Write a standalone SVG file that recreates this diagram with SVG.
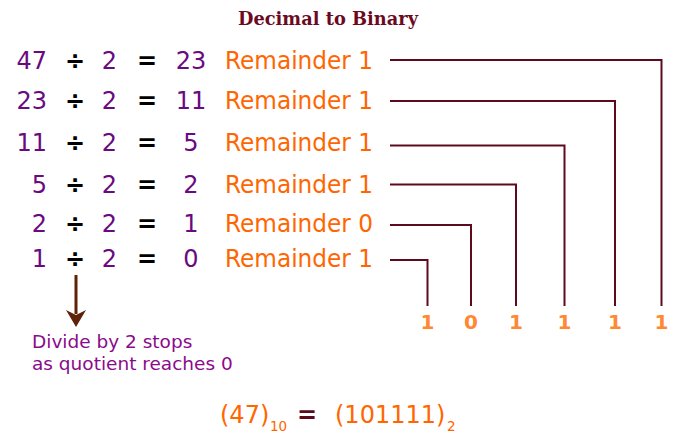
<svg xmlns="http://www.w3.org/2000/svg" width="682" height="434" viewBox="0 0 682 434">
<defs>
<style>
.t{font-family:"DejaVu Sans","Liberation Sans",sans-serif;font-size:24px}
.num{fill:#6a0a80}
.op{fill:#000;font-weight:bold}
.rem{fill:#ff6600}
.bit{font-family:"DejaVu Sans","Liberation Sans",sans-serif;font-size:20px;font-weight:bold;fill:#ff8833;text-anchor:middle}
.cap{font-family:"DejaVu Sans","Liberation Sans",sans-serif;font-size:18.5px;fill:#8b0a8b}
.ln{fill:none;stroke:#5e0a1e;stroke-width:2}
</style>
</defs>
<rect width="682" height="434" fill="#fff"/>
<text id="title" x="238" y="25" font-family="'DejaVu Serif','Liberation Serif',serif" font-weight="bold" font-size="18.5" fill="#6b0a1f" textLength="180" lengthAdjust="spacingAndGlyphs">Decimal to Binary</text>

<g id="row1" class="t">
<text class="num" x="47" y="69" text-anchor="end">47</text>
<text class="op" x="75" y="69" text-anchor="middle">÷</text>
<text class="num" x="109.5" y="69" text-anchor="middle">2</text>
<text class="op" x="147" y="69" text-anchor="middle">=</text>
<text class="num" x="191" y="69" text-anchor="middle">23</text>
<text class="rem" x="225" y="69" textLength="148" lengthAdjust="spacingAndGlyphs">Remainder 1</text>
</g>
<g id="row2" class="t">
<text class="num" x="47" y="109" text-anchor="end">23</text>
<text class="op" x="75" y="109" text-anchor="middle">÷</text>
<text class="num" x="109.5" y="109" text-anchor="middle">2</text>
<text class="op" x="147" y="109" text-anchor="middle">=</text>
<text class="num" x="191" y="109" text-anchor="middle">11</text>
<text class="rem" x="225" y="109" textLength="148" lengthAdjust="spacingAndGlyphs">Remainder 1</text>
</g>
<g id="row3" class="t">
<text class="num" x="47" y="151" text-anchor="end">11</text>
<text class="op" x="75" y="151" text-anchor="middle">÷</text>
<text class="num" x="109.5" y="151" text-anchor="middle">2</text>
<text class="op" x="147" y="151" text-anchor="middle">=</text>
<text class="num" x="191" y="151" text-anchor="middle">5</text>
<text class="rem" x="225" y="151" textLength="148" lengthAdjust="spacingAndGlyphs">Remainder 1</text>
</g>
<g id="row4" class="t">
<text class="num" x="47" y="193" text-anchor="end">5</text>
<text class="op" x="75" y="193" text-anchor="middle">÷</text>
<text class="num" x="109.5" y="193" text-anchor="middle">2</text>
<text class="op" x="147" y="193" text-anchor="middle">=</text>
<text class="num" x="191" y="193" text-anchor="middle">2</text>
<text class="rem" x="225" y="193" textLength="148" lengthAdjust="spacingAndGlyphs">Remainder 1</text>
</g>
<g id="row5" class="t">
<text class="num" x="47" y="232" text-anchor="end">2</text>
<text class="op" x="75" y="232" text-anchor="middle">÷</text>
<text class="num" x="109.5" y="232" text-anchor="middle">2</text>
<text class="op" x="147" y="232" text-anchor="middle">=</text>
<text class="num" x="191" y="232" text-anchor="middle">1</text>
<text class="rem" x="225" y="232" textLength="148" lengthAdjust="spacingAndGlyphs">Remainder 0</text>
</g>
<g id="row6" class="t">
<text class="num" x="47" y="267" text-anchor="end">1</text>
<text class="op" x="75" y="267" text-anchor="middle">÷</text>
<text class="num" x="109.5" y="267" text-anchor="middle">2</text>
<text class="op" x="147" y="267" text-anchor="middle">=</text>
<text class="num" x="191" y="267" text-anchor="middle">0</text>
<text class="rem" x="225" y="267" textLength="148" lengthAdjust="spacingAndGlyphs">Remainder 1</text>
</g>

<g id="connectors">
<path class="ln" d="M390,60 H661.5 V306"/>
<path class="ln" d="M390,101 H615 V306"/>
<path class="ln" d="M390,145.5 H564.5 V306"/>
<path class="ln" d="M390,184.5 H516 V306"/>
<path class="ln" d="M390,225 H471 V306"/>
<path class="ln" d="M390,260 H427.5 V306"/>
<line x1="76" y1="275" x2="76" y2="314" stroke="#5e2208" stroke-width="3"/>
<path d="M66,310 L76,327 L86,310 L76,315 z" fill="#5e2208"/>
</g>

<g id="bits">
<text class="bit" x="427.5" y="329">1</text>
<text class="bit" x="471" y="329">0</text>
<text class="bit" x="516" y="329">1</text>
<text class="bit" x="564.5" y="329">1</text>
<text class="bit" x="615" y="329">1</text>
<text class="bit" x="661.5" y="329">1</text>
</g>

<g id="caption">
<text class="cap" x="32" y="348">Divide by 2 stops</text>
<text class="cap" x="32" y="370">as quotient reaches 0</text>
</g>

<g id="result" font-family="'DejaVu Sans','Liberation Sans',sans-serif">
<text x="220" y="423" font-size="24" fill="#ff6600">(47)</text>
<text x="270" y="431" font-size="13.5" fill="#ff6600">10</text>
<text x="307" y="423" font-size="24" font-weight="bold" fill="#5e0a1e" text-anchor="middle">=</text>
<text x="335" y="423" font-size="24" fill="#ff6600">(101111)</text>
<text x="447" y="431" font-size="13.5" fill="#ff6600">2</text>
</g>
</svg>
